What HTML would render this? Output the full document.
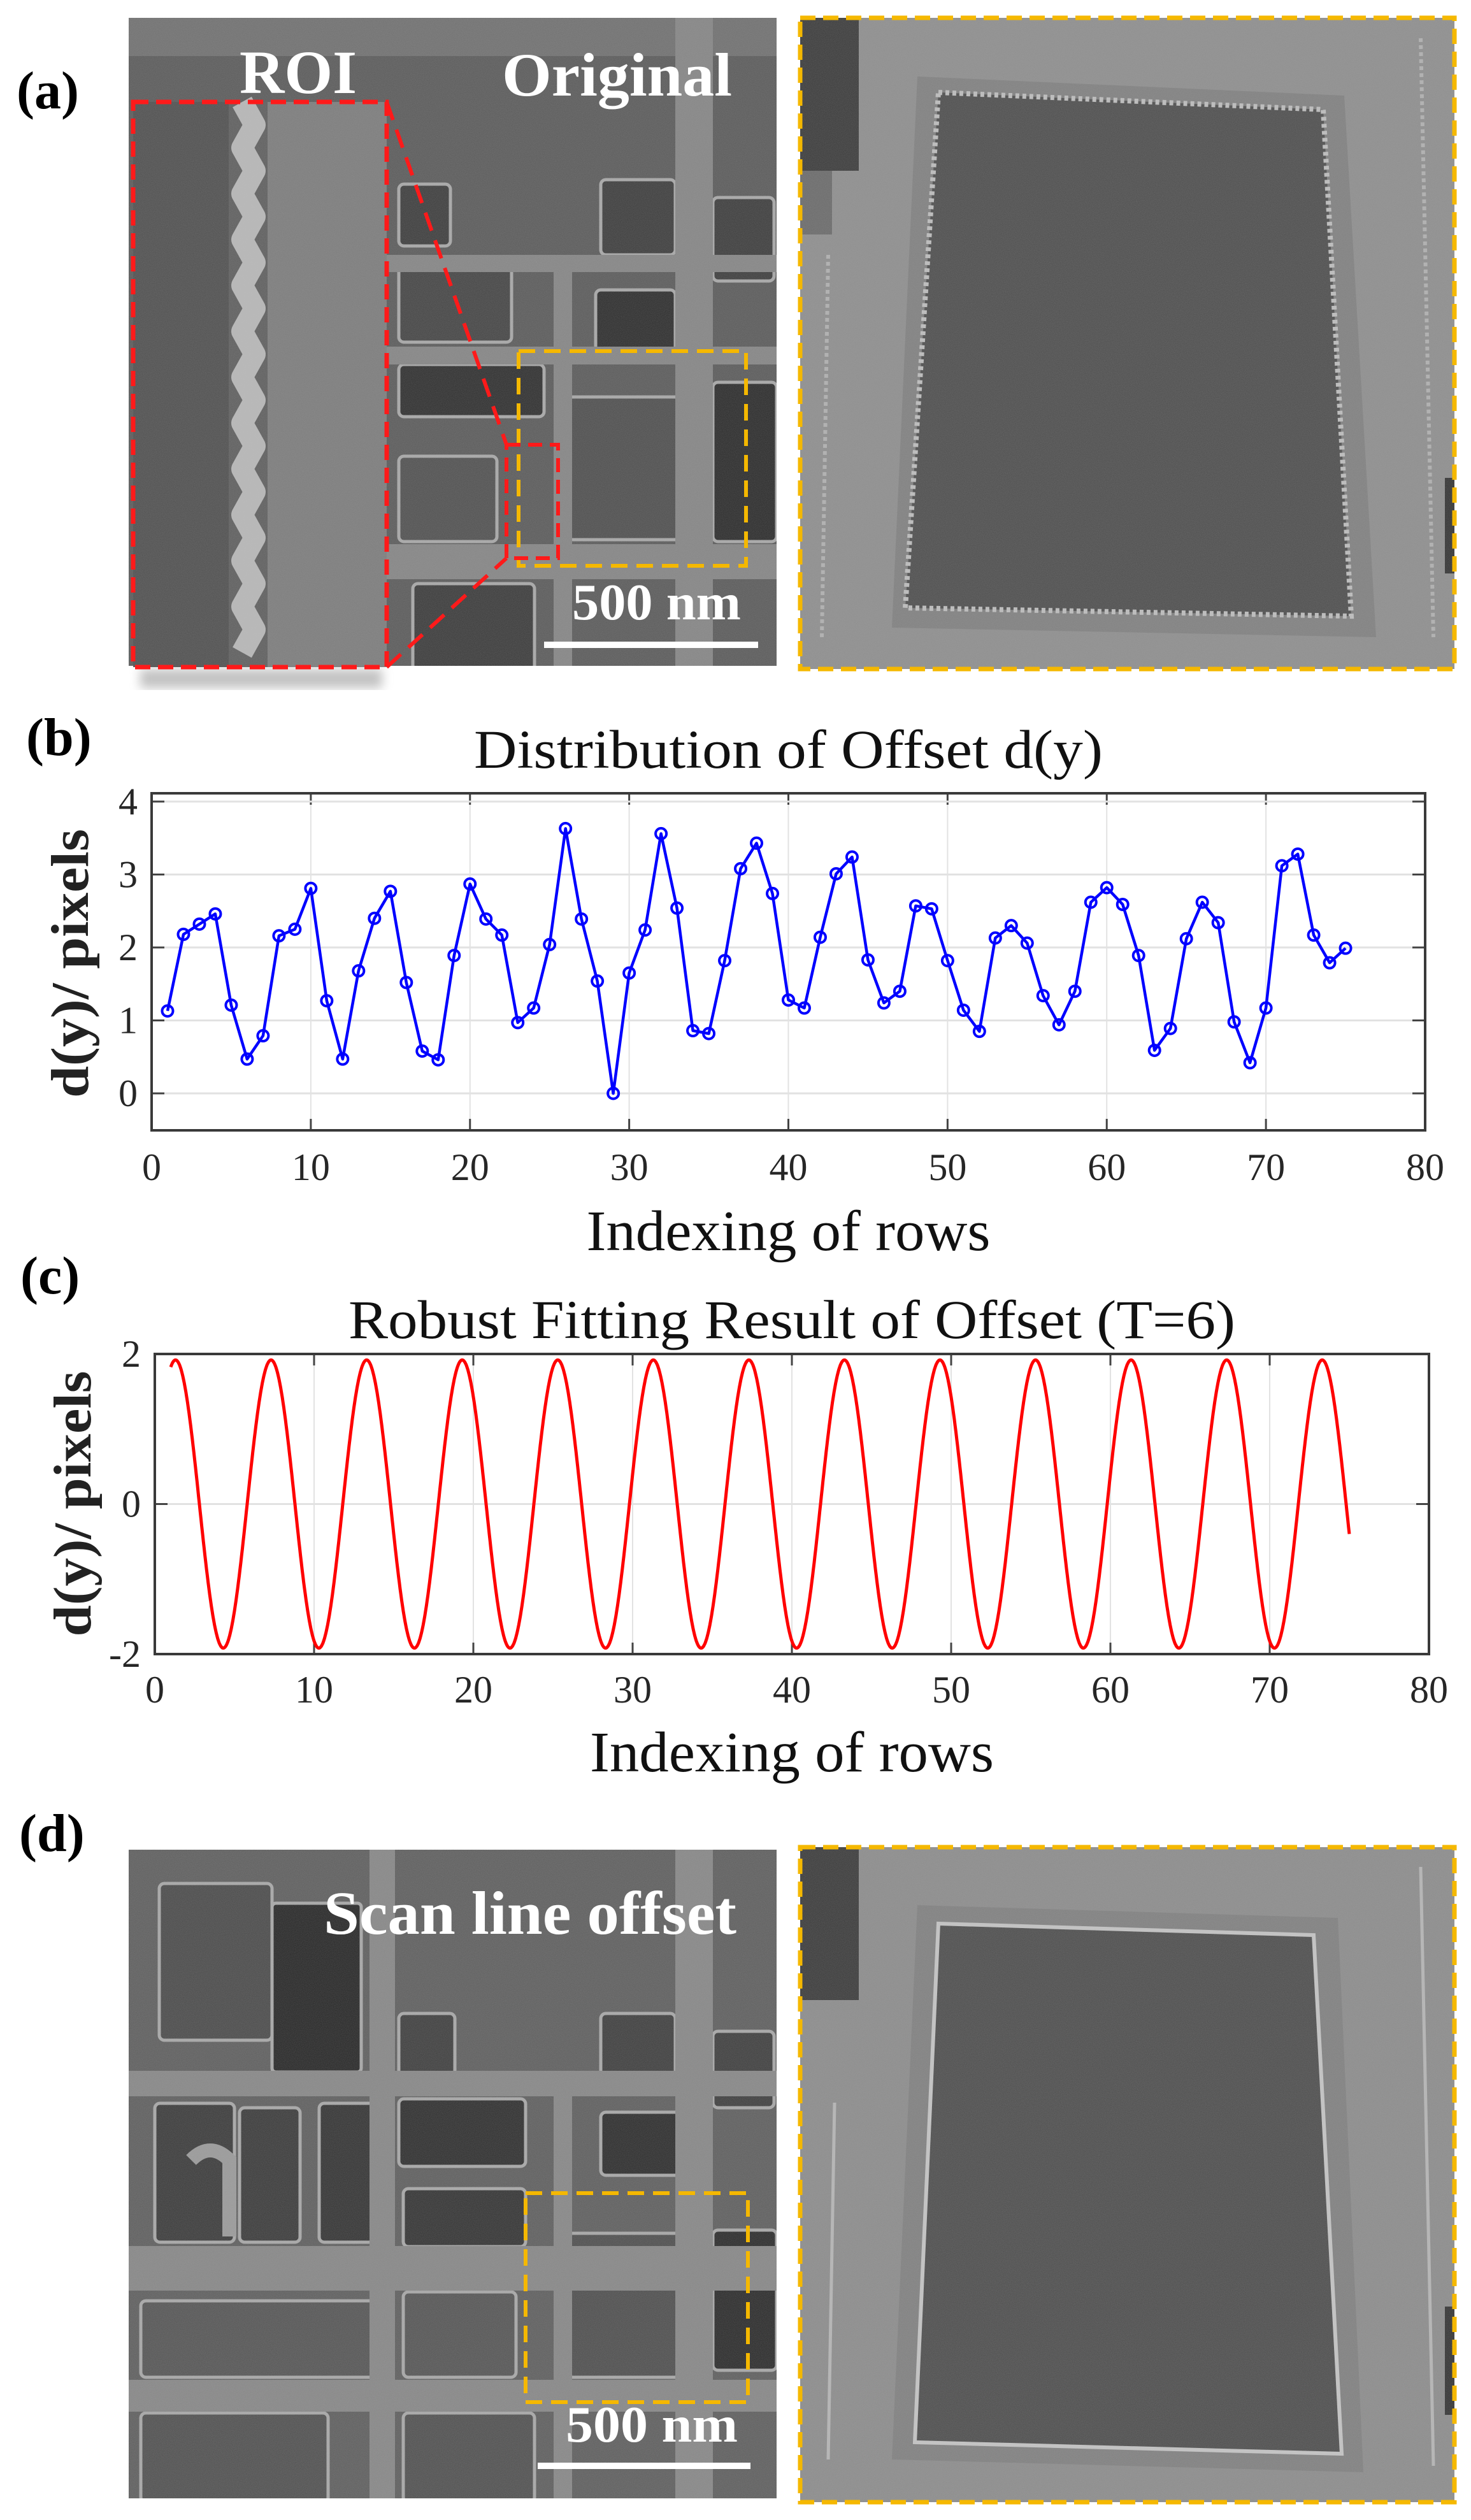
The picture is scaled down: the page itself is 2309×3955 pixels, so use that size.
<!DOCTYPE html>
<html><head><meta charset="utf-8"><title>Scan line offset figure</title>
<style>
html,body{margin:0;padding:0;background:#fff;}
svg{display:block;}
text{font-family:"Liberation Serif","Times New Roman",serif;}
</style></head>
<body>
<svg id="fig" width="2309" height="3955" viewBox="0 0 2309 3955" xmlns="http://www.w3.org/2000/svg">
<defs>
  <filter id="noise" x="0" y="0" width="100%" height="100%">
    <feTurbulence type="fractalNoise" baseFrequency="0.9" numOctaves="2" seed="3" result="n"/>
    <feColorMatrix in="n" type="matrix" values="0 0 0 0 0.5  0 0 0 0 0.5  0 0 0 0 0.5  0 0 0 0.25 0"/>
  </filter>
  <filter id="blur8"><feGaussianBlur stdDeviation="8"/></filter>
  <clipPath id="clipA"><rect x="202" y="28" width="1017" height="1017"/></clipPath>
  <clipPath id="clipD"><rect x="202" y="2903" width="1017" height="1018"/></clipPath>
</defs>

<!-- Panel labels -->
<text x="26" y="170" font-size="84" font-weight="bold">(a)</text>
<text x="41" y="1185" font-size="84" font-weight="bold">(b)</text>
<text x="32" y="2030" font-size="84" font-weight="bold">(c)</text>
<text x="30" y="2905" font-size="84" font-weight="bold">(d)</text>

<!-- Panel (a) left SEM image -->
<g clip-path="url(#clipA)">
  <rect x="202" y="28" width="1017" height="1017" fill="#5a5a5a"/>
  <rect x="202" y="28" width="1017" height="60" fill="#707070"/>
  <g fill="#3c3c3c" stroke="#a8a8a8" stroke-width="5">
    <rect x="943" y="282" width="117" height="118" rx="8"/>
    <rect x="1119" y="310" width="96" height="131" rx="8"/>
    <rect x="626" y="289" width="81" height="97" rx="8"/>
    <rect x="626" y="420" width="177" height="117" rx="8" fill="#444"/>
    <rect x="935" y="455" width="125" height="103" rx="8" fill="#2c2c2c"/>
    <rect x="626" y="572" width="228" height="82" rx="8" fill="#2e2e2e"/>
    <rect x="891" y="623" width="206" height="224" rx="8" fill="#4e4e4e"/>
    <rect x="626" y="716" width="154" height="134" rx="8" fill="#505050"/>
    <rect x="648" y="916" width="191" height="140" rx="8" fill="#3a3a3a"/>
    <rect x="1119" y="600" width="100" height="250" rx="8" fill="#2a2a2a"/>
  </g>
  <g fill="#858585">
    <rect x="1060" y="28" width="59" height="1017"/>
    <rect x="869" y="400" width="29" height="645"/>
    <rect x="600" y="854" width="619" height="55"/>
    <rect x="600" y="544" width="619" height="28"/>
    <rect x="600" y="400" width="619" height="27"/>
  </g>
  <rect x="202" y="28" width="1017" height="1017" filter="url(#noise)"/>
</g>
<rect x="220" y="1050" width="380" height="30" fill="#888" opacity="0.5" filter="url(#blur8)"/>
<!-- ROI inset -->
<g>
  <rect x="209" y="160" width="398" height="887" fill="#5e5e5e"/>
  <rect x="209" y="160" width="150" height="887" fill="#4f4f4f"/>
  <rect x="420" y="160" width="187" height="887" fill="#7c7c7c"/>
  <polyline id="roiZig" fill="none" stroke="#b8b8b8" stroke-width="34" stroke-linejoin="round"/>
  <rect x="209" y="160" width="398" height="887" filter="url(#noise)"/>
  <rect x="209" y="160" width="398" height="887" fill="none" stroke="#ff1a1a" stroke-width="7" stroke-dasharray="24 12"/>
</g>
<line x1="607" y1="160" x2="795" y2="698" stroke="#ff1a1a" stroke-width="6" stroke-dasharray="30 16"/>
<line x1="607" y1="1047" x2="795" y2="876" stroke="#ff1a1a" stroke-width="6" stroke-dasharray="30 16"/>
<rect x="814" y="551" width="357" height="337" fill="none" stroke="#f5b800" stroke-width="6" stroke-dasharray="26 14"/>
<rect x="795" y="698" width="81" height="178" fill="none" stroke="#ff1a1a" stroke-width="6" stroke-dasharray="22 12"/>
<text x="376" y="146" font-size="96" font-weight="bold" fill="#fff" textLength="184" lengthAdjust="spacingAndGlyphs">ROI</text>
<text x="788" y="150" font-size="96" font-weight="bold" fill="#fff" textLength="361" lengthAdjust="spacingAndGlyphs">Original</text>
<text x="898" y="972" font-size="80" font-weight="bold" fill="#fff" textLength="265" lengthAdjust="spacingAndGlyphs">500 nm</text>
<rect x="854" y="1007" width="336" height="10" fill="#fff"/>

<!-- Panel (a) right zoomed image -->
<g>
  <rect x="1256" y="28" width="1027" height="1022" fill="#8e8e8e"/>
  <rect x="1256" y="28" width="92" height="240" fill="#3a3a3a"/>
  <rect x="1256" y="268" width="50" height="100" fill="#6a6a6a"/>
  <polygon points="1440,120 2110,150 2160,1000 1400,985" fill="#808080"/>
  <polygon points="1473,145 2077,172 2121,967 1421,954" fill="#4d4d4d" stroke="#bdbdbd" stroke-width="8" stroke-dasharray="6 5"/>
  <line x1="1300" y1="400" x2="1290" y2="1000" stroke="#b0b0b0" stroke-width="6" stroke-dasharray="6 5"/>
  <line x1="2230" y1="60" x2="2250" y2="1000" stroke="#b0b0b0" stroke-width="6" stroke-dasharray="6 5"/>
  <rect x="2268" y="750" width="15" height="150" fill="#333"/>
  <rect x="1256" y="28" width="1027" height="1022" filter="url(#noise)"/>
  <rect x="1256" y="28" width="1027" height="1022" fill="none" stroke="#f5b800" stroke-width="7" stroke-dasharray="24 12"/>
</g>

<!-- Panel (d) left SEM image -->
<g clip-path="url(#clipD)">
  <rect x="202" y="2903" width="1017" height="1018" fill="#5e5e5e"/>
  <g fill="#3e3e3e" stroke="#a8a8a8" stroke-width="5">
    <rect x="250" y="2956" width="177" height="246" rx="8" fill="#4a4a4a"/>
    <rect x="427" y="2987" width="140" height="265" rx="6" fill="#262626"/>
    <rect x="626" y="3160" width="88" height="99" rx="8"/>
    <rect x="943" y="3160" width="117" height="120" rx="8"/>
    <rect x="1119" y="3188" width="96" height="120" rx="8"/>
    <rect x="243" y="3301" width="125" height="218" rx="8" fill="#3a3a3a"/>
    <rect x="376" y="3308" width="95" height="211" rx="8" fill="#3a3a3a"/>
    <rect x="501" y="3301" width="88" height="218" rx="8" fill="#333"/>
    <rect x="626" y="3294" width="199" height="106" rx="8" fill="#2e2e2e"/>
    <rect x="943" y="3315" width="132" height="99" rx="8" fill="#2c2c2c"/>
    <rect x="633" y="3435" width="192" height="91" rx="8" fill="#333"/>
    <rect x="891" y="3505" width="206" height="226" rx="8" fill="#4e4e4e"/>
    <rect x="221" y="3611" width="368" height="120" rx="8" fill="#555"/>
    <rect x="633" y="3597" width="177" height="134" rx="8" fill="#555"/>
    <rect x="221" y="3787" width="294" height="140" rx="8" fill="#505050"/>
    <rect x="633" y="3787" width="206" height="140" rx="8" fill="#505050"/>
    <rect x="1119" y="3500" width="100" height="220" rx="8" fill="#2a2a2a"/>
  </g>
  <g fill="#878787">
    <rect x="1060" y="2903" width="59" height="1018"/>
    <rect x="580" y="2903" width="40" height="1018"/>
    <rect x="869" y="3290" width="29" height="631"/>
    <rect x="202" y="3250" width="1017" height="40"/>
    <rect x="202" y="3525" width="1017" height="70"/>
    <rect x="202" y="3735" width="1017" height="50"/>
  </g>
  <path d="M 300 3390 q 30 -30 60 0 v 120" fill="none" stroke="#9a9a9a" stroke-width="22"/>
  <rect x="202" y="2903" width="1017" height="1018" filter="url(#noise)"/>
</g>
<rect x="825" y="3442" width="349" height="328" fill="none" stroke="#f5b800" stroke-width="6" stroke-dasharray="26 14"/>
<text x="508" y="3035" font-size="96" font-weight="bold" fill="#fff" textLength="648" lengthAdjust="spacingAndGlyphs">Scan line offset</text>
<text x="888" y="3832" font-size="80" font-weight="bold" fill="#fff" textLength="270" lengthAdjust="spacingAndGlyphs">500 nm</text>
<rect x="844" y="3865" width="334" height="10" fill="#fff"/>

<!-- Panel (d) right zoomed image -->
<g>
  <rect x="1256" y="2899" width="1027" height="1028" fill="#8c8c8c"/>
  <rect x="1256" y="2899" width="92" height="240" fill="#3a3a3a"/>
  <polygon points="1440,2990 2100,3010 2140,3880 1400,3860" fill="#808080"/>
  <polygon points="1473,3019 2062,3037 2106,3851 1436,3833" fill="#4d4d4d" stroke="#c4c4c4" stroke-width="6"/>
  <line x1="1310" y1="3300" x2="1300" y2="3860" stroke="#b5b5b5" stroke-width="5"/>
  <line x1="2230" y1="2930" x2="2250" y2="3870" stroke="#b5b5b5" stroke-width="5"/>
  <rect x="2268" y="3620" width="15" height="170" fill="#333"/>
  <rect x="1256" y="2899" width="1027" height="1028" filter="url(#noise)"/>
  <rect x="1256" y="2899" width="1027" height="1028" fill="none" stroke="#f5b800" stroke-width="7" stroke-dasharray="24 12"/>
</g>

<!-- Chart (b) -->
<g id="chartB"></g>
<!-- Chart (c) -->
<g id="chartC"></g>
</svg>

<script>
// ---- Chart (b) data ----
const rowsB = [1,2,3,4,5,6,7,8,9,10,11,12,13,14,15,16,17,18,19,20,21,22,23,24,25,26,27,28,29,30,31,32,33,34,35,36,37,38,39,40,41,42,43,44,45,46,47,48,49,50,51,52,53,54,55,56,57,58,59,60,61,62,63,64,65,66,67,68,69,70,71,72,73,74,75];
const offsetsB = [1.13,2.18,2.32,2.46,1.21,0.47,0.79,2.16,2.25,2.81,1.27,0.47,1.68,2.40,2.77,1.52,0.58,0.46,1.89,2.87,2.39,2.17,0.97,1.17,2.04,3.63,2.39,1.54,0.0,1.65,2.24,3.56,2.54,0.86,0.82,1.82,3.08,3.43,2.74,1.28,1.17,2.14,3.01,3.24,1.83,1.24,1.40,2.57,2.53,1.82,1.14,0.85,2.13,2.30,2.06,1.34,0.94,1.40,2.62,2.82,2.59,1.89,0.59,0.89,2.12,2.62,2.34,0.98,0.42,1.17,3.12,3.28,2.17,1.79,1.99];
const xTicksB = [0,10,20,30,40,50,60,70,80];
const yTicksB = [0,1,2,3,4];
// ---- Chart (c) data (fitted sinusoid parameters) ----
const fitAmplitudeC = [1.92];
const fitPeriodC = [6];
const fitPeakRowC = [1.3];
const fitRangeC = [1, 75];
const xTicksC = [0,10,20,30,40,50,60,70,80];
const yTicksC = [-2,0,2];

const NS = "http://www.w3.org/2000/svg";
function mk(parent, tag, attrs, txt){
  const e = document.createElementNS(NS, tag);
  for (const k in attrs) e.setAttribute(k, attrs[k]);
  if (txt !== undefined) e.textContent = txt;
  parent.appendChild(e);
  return e;
}

function drawAxes(g, o){
  const {L,R,T,B,xs,ys,xTicks,yTicks,title,titleY,titleLen,xlabY,ylabX,ylabLen,tickY} = o;
  mk(g,'rect',{x:L,y:T,width:R-L,height:B-T,fill:'#fff'});
  xTicks.forEach(v=>{
    if (v>xTicks[0] && v<xTicks[xTicks.length-1]) {
      const gl = mk(g,'line',{x1:xs(v),x2:xs(v),y1:T,y2:B,stroke:'#e2e2e2','stroke-width':2});
      
      
    }
    mk(g,'line',{x1:xs(v),x2:xs(v),y1:T,y2:T+18,stroke:'#444','stroke-width':3});
    mk(g,'line',{x1:xs(v),x2:xs(v),y1:B,y2:B-18,stroke:'#444','stroke-width':3});
    const t = mk(g,'text',{x:xs(v),y:tickY,'font-size':60,'text-anchor':'middle',fill:'#262626'},String(v));
    
    
  });
  yTicks.forEach(v=>{
    const gl = mk(g,'line',{x1:L,x2:R,y1:ys(v),y2:ys(v),stroke:'#e2e2e2','stroke-width':3});
    
    
    mk(g,'line',{x1:L,x2:L+20,y1:ys(v),y2:ys(v),stroke:'#444','stroke-width':3});
    mk(g,'line',{x1:R,x2:R-20,y1:ys(v),y2:ys(v),stroke:'#444','stroke-width':3});
    const t = mk(g,'text',{x:L-22,y:ys(v)+20,'font-size':60,'text-anchor':'end',fill:'#262626'},String(v));
    
    
  });
  const fr = mk(g,'rect',{x:L,y:T,width:R-L,height:B-T,fill:'none',stroke:'#3a3a3a','stroke-width':4});
  
  
  const tt = mk(g,'text',{x:(L+R)/2,y:titleY,'font-size':86,'text-anchor':'middle',fill:'#111',textLength:titleLen,lengthAdjust:'spacingAndGlyphs'},title);
  
  
  const xl = mk(g,'text',{x:(L+R)/2,y:xlabY,'font-size':90,'text-anchor':'middle',fill:'#111',textLength:634,lengthAdjust:'spacingAndGlyphs'},'Indexing of rows');
  
  
  const yl = mk(g,'text',{x:ylabX,y:o.ylabCY,'font-size':84,'font-weight':'bold','text-anchor':'middle',fill:'#222',textLength:ylabLen,lengthAdjust:'spacingAndGlyphs',transform:`rotate(-90 ${ylabX} ${o.ylabCY})`},'d(y)/ pixels');
  
  
}

// ---- draw chart (b) ----
(function(){
  const g = document.getElementById('chartB');
  const L=238, R=2237, T=1245, B=1774;
  const xs = v => L + v * (R - L) / 80;
  const ys = v => 1716 - v * 114.5;
  drawAxes(g,{L,R,T,B,xs,ys,xTicks:xTicksB,yTicks:yTicksB,title:'Distribution of Offset d(y)',titleY:1205,titleLen:987,xlabY:1962,ylabX:138,ylabCY:1512,ylabLen:422,tickY:1852});
  const pts = rowsB.map((r,i)=>xs(r).toFixed(1)+','+ys(offsetsB[i]).toFixed(1)).join(' ');
  const line = mk(g,'polyline',{points:pts,fill:'none',stroke:'#0000ff','stroke-width':4.5,'stroke-linejoin':'round'});
  
  
  rowsB.forEach((r,i)=>{
    const c = mk(g,'circle',{cx:xs(r),cy:ys(offsetsB[i]),r:8.5,fill:'none',stroke:'#0000ff','stroke-width':4});
    
    
  });
})();

// ---- ROI zigzag edge (decorative) ----
(function(){
  const pl = document.getElementById('roiZig');
  const pts = [];
  for (let y=160, k=0; y<=1047; y+=36, k++) pts.push(((k%2)?400:380)+','+y);
  pl.setAttribute('points', pts.join(' '));
})();

// ---- draw chart (c) ----
(function(){
  const g = document.getElementById('chartC');
  const L=243, R=2243, T=2125, B=2596;
  const xs = v => L + v * (R - L) / 80;
  const ys = v => (T+B)/2 - v * (B - T) / 4;
  drawAxes(g,{L,R,T,B,xs,ys,xTicks:xTicksC,yTicks:yTicksC,title:'Robust Fitting Result of Offset (T=6)',titleY:2100,titleLen:1392,xlabY:2780,ylabX:142,ylabCY:2360,ylabLen:417,tickY:2672});
  const A = fitAmplitudeC[0], P = fitPeriodC[0], x0 = fitPeakRowC[0];
  const pts = [];
  for (let x = fitRangeC[0]; x <= fitRangeC[1] + 1e-9; x += 0.05) {
    const v = A * Math.cos(2 * Math.PI * (x - x0) / P);
    pts.push(xs(x).toFixed(1) + ',' + ys(v).toFixed(1));
  }
  const line = mk(g,'polyline',{points:pts.join(' '),fill:'none',stroke:'#ff0000','stroke-width':5,'stroke-linejoin':'round'});
  
  
})();
</script>
</body></html>
